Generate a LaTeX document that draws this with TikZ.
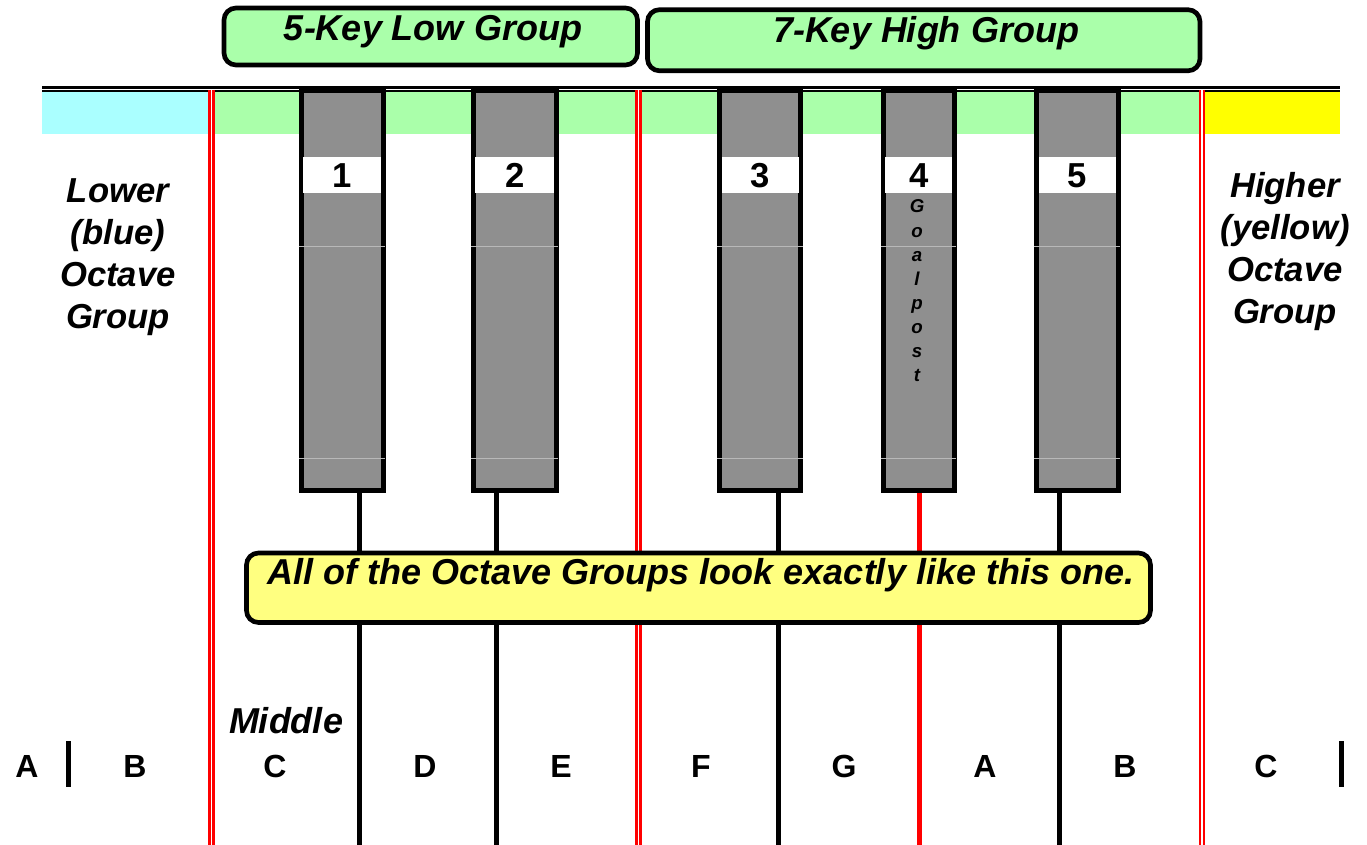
\documentclass[tikz,border=0pt]{standalone}
\usepackage{fontspec}
\setmainfont{Liberation Sans}
\usetikzlibrary{
    calc,
    positioning
}
\definecolor{bandgreen}{HTML}{AAFFAA}
\definecolor{bandblue}{HTML}{AAFFFF}
\definecolor{bandyellow}{HTML}{FFFF00}
\definecolor{notefill}{HTML}{FFFF80}
\definecolor{keygray}{HTML}{8F8F8F}
\definecolor{gridgray}{HTML}{B8B8B8}
\newcommand{\blackkey}[4]{
    \draw[keybody] (#1, 91) rectangle (#2, 490.5);
    \fill[white] ({#1+1.9}, 157) rectangle ({#2-1.9}, 193);
    \draw[gridline] ({#1-3}, 246) -- ({#2+2}, 246) ({#1-3}, 458) -- ({#2+2}, 458);
    \node[numlabel] (#3) at ({(#1+#2)/2}, 188) {#4};
}

\begin{document}
\begin{tikzpicture}[x=0.75pt, y=-0.75pt,
    keybody/.style={fill=keygray, draw=black, line width=3.75pt},
    gridline/.style={draw=gridgray, line width=0.75pt},
    sepline/.style={line width=3.75pt},
    redsep/.style={draw=red, double=white, line width=1.9pt, double distance=1.2pt},
    groupbox/.style={fill=bandgreen, draw=black, line width=3.5pt, rounded corners=9pt},
    notebox/.style={fill=notefill, draw=black, line width=3.5pt, rounded corners=9pt},
    numlabel/.style={anchor=base, inner sep=0pt, font=\bfseries\fontsize{26}{30}\selectfont},
    keylabel/.style={anchor=base, inner sep=0pt, font=\bfseries\fontsize{24}{28}\selectfont},
    textlabel/.style={anchor=base, inner sep=0pt, font=\bfseries\itshape\fontsize{27}{31}\selectfont},
    sidelabel/.style={textlabel, align=center, font=\bfseries\itshape\fontsize{26}{31.5}\selectfont},
    postletter/.style={anchor=base, inner sep=0pt, font=\bfseries\itshape\fontsize{14}{16}\selectfont}]
    \useasboundingbox (0, 0) rectangle (1367, 845);

    \fill[bandblue] (42, 92) rectangle (210, 134);
    \fill[bandgreen] (210, 92) rectangle (1202, 134);
    \fill[bandyellow] (1202, 92) rectangle (1340, 134);

    \blackkey{301.5}{383.2}{k1}{1}
    \blackkey{473.5}{556}{k2}{2}
    \blackkey{719.8}{800.8}{k3}{3}
    \blackkey{883.5}{954}{k4}{4}
    \blackkey{1036.8}{1118.2}{k5}{5}

    \draw[line width=2.25pt] (42, 87.5) -- (1340, 87.5);
    \draw[line width=1.1pt] (42, 91) -- (1340, 91);

    \draw[redsep] (211.5, 90) -- (211.5, 845);
    \draw[redsep] (638.5, 90) -- (638.5, 845);
    \draw[redsep] (1202, 90) -- (1202, 845);

    \draw[sepline] (359, 493) -- (359, 845);
    \draw[sepline] (496, 493) -- (496, 845);
    \draw[sepline] (778, 493) -- (778, 845);
    \draw[sepline, red] (919, 493) -- (919, 845);
    \draw[sepline] (1059, 493) -- (1059, 845);
    \draw[sepline] (68.5, 741) -- (68.5, 787);
    \draw[sepline] (1341.5, 741) -- (1341.5, 787);

    \draw[groupbox] (224, 8) rectangle (637.5, 65);
    \node[textlabel] (lowgroup) at (433, 41) {5-Key Low Group};
    \draw[groupbox] (647.5, 9.7) rectangle (1200, 70.8);
    \node[textlabel] (highgroup) at (926, 43) {7-Key High Group};

    \draw[notebox] (246.5, 553) rectangle (1150.5, 622.5);
    \node[textlabel] (note) at (701, 584) {All of the Octave Groups look exactly like this one.};

    \node[sidelabel] (lower) at (118, 328) {Lower\\(blue)\\Octave\\Group};
    \node[sidelabel] (higher) at (1285, 323) {Higher\\(yellow)\\Octave\\Group};

    \foreach \ch [count=\i from 0] in {G,o,a,l,p,o,s,t}
        \node[postletter] (post\i) at (917, {213+24.1*\i}) {\ch};

    \node[textlabel] (middle) at (286, 733) {Middle};
    \foreach \x/\name [count=\i] in {27/A, 135/B, 275/C, 425/D, 561/E, 701/F, 844/G, 985/A, 1125/B, 1266/C}
        \node[keylabel] (note\i) at (\x, 777) {\name};
\end{tikzpicture}
\end{document}
